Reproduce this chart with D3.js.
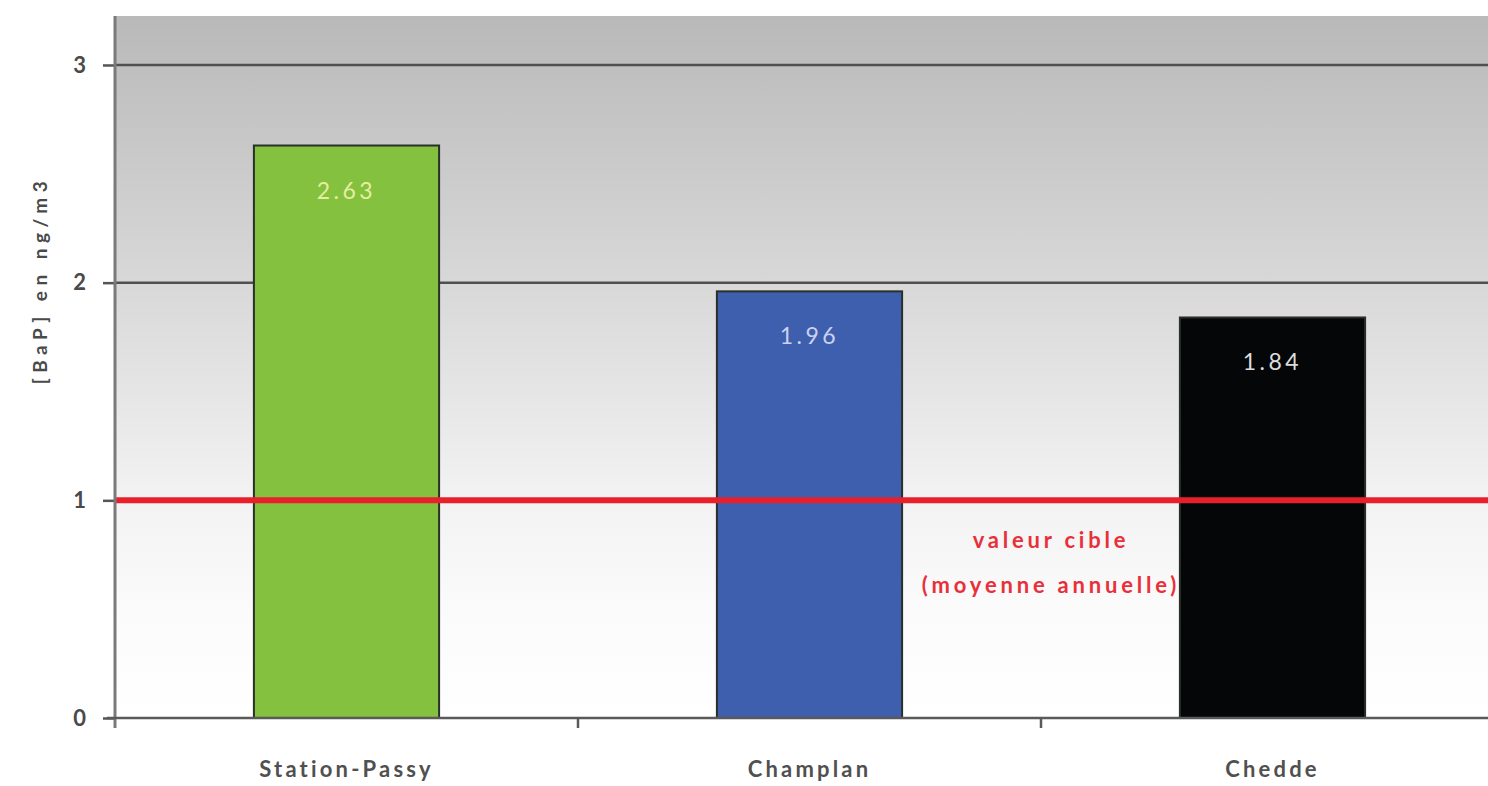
<!DOCTYPE html>
<html>
<head>
<meta charset="utf-8">
<script src="https://cdn.jsdelivr.net/npm/d3@7"></script>
<style>
  html, body { margin: 0; padding: 0; background: #ffffff; }
  svg { display: block; }
  text { font-family: "Lato", "Open Sans", "DejaVu Sans", sans-serif; }
</style>
</head>
<body>
<svg id="chart" width="1488" height="786"></svg>
<script>
// BaP annual mean concentrations per site (ng/m3)
const categories = ["Station-Passy", "Champlan", "Chedde"];
const values = [2.63, 1.96, 1.84];
const barColors = ["#84c13f", "#3e5fae", "#050608"];
const labelColors = ["#e6eea0", "#c9d3f0", "#dcdcdc"];
const yTicks = [0, 1, 2, 3];
const targetValue = 1;
const targetLabel = ["valeur cible", "(moyenne annuelle)"];
const yTitle = "[BaP] en ng/m3";

const svg = d3.select("#chart");
const margin = { left: 115, top: 16, right: -16, bottom: 68 };
const W = 1488, H = 786;
const x0 = margin.left, x1 = W - margin.right;
const y0 = H - margin.bottom, y1 = margin.top;

const x = d3.scaleBand().domain(categories).range([x0, x1])
  .paddingInner(0.6).paddingOuter(0.3);
const xCell = d3.scaleBand().domain(categories).range([x0, x1]).padding(0);
const y = d3.scaleLinear().domain([0, 3.225]).range([y0, y1]);

// plot background: grey at the top fading to white at the baseline
const defs = svg.append("defs");
const grad = defs.append("linearGradient").attr("id", "bg")
  .attr("x1", 0).attr("y1", 0).attr("x2", 0).attr("y2", 1);
[[0, "#b9b9b9"], [0.38, "#d8d8d8"], [0.68, "#f2f2f2"], [0.85, "#fbfbfb"], [1, "#ffffff"]]
  .forEach(([o, c]) => grad.append("stop").attr("offset", o).attr("stop-color", c));

svg.append("rect")
  .attr("x", x0).attr("y", y1)
  .attr("width", x1 - x0).attr("height", y0 - y1)
  .attr("fill", "url(#bg)");

// horizontal grid lines (behind the bars)
svg.append("g")
  .selectAll("line")
  .data(yTicks.filter(t => t > targetValue))
  .join("line")
  .attr("x1", x0).attr("x2", x1)
  .attr("y1", d => y(d)).attr("y2", d => y(d))
  .attr("stroke", "#505050").attr("stroke-width", 2.5);

// bars
svg.append("g")
  .selectAll("rect")
  .data(values)
  .join("rect")
  .attr("x", (d, i) => x(categories[i]))
  .attr("y", d => y(d))
  .attr("width", x.bandwidth())
  .attr("height", d => y(0) - y(d))
  .attr("fill", (d, i) => barColors[i])
  .attr("stroke", "#2a2f2a").attr("stroke-width", 2);

// value labels inside the bars
svg.append("g")
  .selectAll("text")
  .data(values)
  .join("text")
  .attr("x", (d, i) => x(categories[i]) + x.bandwidth() / 2)
  .attr("y", d => y(d) + 53)
  .attr("text-anchor", "middle")
  .attr("font-size", 23)
  .attr("letter-spacing", 3.5)
  .attr("fill", (d, i) => labelColors[i])
  .text(d => d.toFixed(2));

// target value line
svg.append("line")
  .attr("x1", x0).attr("x2", x1)
  .attr("y1", y(targetValue)).attr("y2", y(targetValue))
  .attr("stroke", "#e8202c").attr("stroke-width", 6);

const tx = xCell("Champlan") + xCell.bandwidth() + 10;
svg.append("g")
  .selectAll("text")
  .data(targetLabel)
  .join("text")
  .attr("x", tx)
  .attr("y", (d, i) => y(targetValue) + 48 + i * 45)
  .attr("text-anchor", "middle")
  .attr("font-size", 22)
  .attr("font-weight", 700)
  .attr("letter-spacing", 3.8)
  .attr("fill", "#e8303a")
  .text(d => d);

// y axis
const yAxis = svg.append("g")
  .attr("transform", `translate(${x0},0)`)
  .call(d3.axisLeft(y).tickValues(yTicks).tickSize(12).tickPadding(17).tickFormat(d3.format("d")));
yAxis.select(".domain").remove();
yAxis.selectAll(".tick line").attr("stroke", "#555").attr("stroke-width", 2.5);
yAxis.selectAll(".tick text")
  .attr("font-size", 22).attr("font-weight", 700).attr("fill", "#4a4a4a")
  .attr("font-family", "Lato, sans-serif");
svg.append("line")
  .attr("x1", x0).attr("x2", x0)
  .attr("y1", y1).attr("y2", y0 + 10)
  .attr("stroke", "#7a7a7a").attr("stroke-width", 3);

// x axis
const xAxis = svg.append("g")
  .attr("transform", `translate(0,${y0})`)
  .call(d3.axisBottom(xCell).tickSize(0).tickPadding(43));
xAxis.select(".domain").remove();
xAxis.selectAll(".tick text")
  .attr("font-size", 22).attr("font-weight", 700).attr("fill", "#505050").attr("letter-spacing", 3.2)
  .attr("font-family", "Lato, sans-serif");
svg.append("line")
  .attr("x1", x0 - 8).attr("x2", x1)
  .attr("y1", y0).attr("y2", y0)
  .attr("stroke", "#5a5a5a").attr("stroke-width", 2.5);
// separators between categories
svg.append("g")
  .selectAll("line")
  .data(categories.slice(1))
  .join("line")
  .attr("x1", d => xCell(d)).attr("x2", d => xCell(d))
  .attr("y1", y0).attr("y2", y0 + 10)
  .attr("stroke", "#5a5a5a").attr("stroke-width", 2.5);

// y axis title
svg.append("text")
  .attr("transform", `translate(47,280) rotate(-90)`)
  .attr("text-anchor", "middle")
  .attr("font-size", 19)
  .attr("font-weight", 700)
  .attr("letter-spacing", 5.5)
  .attr("fill", "#4a4a4a")
  .text(yTitle);
</script>
</body>
</html>
